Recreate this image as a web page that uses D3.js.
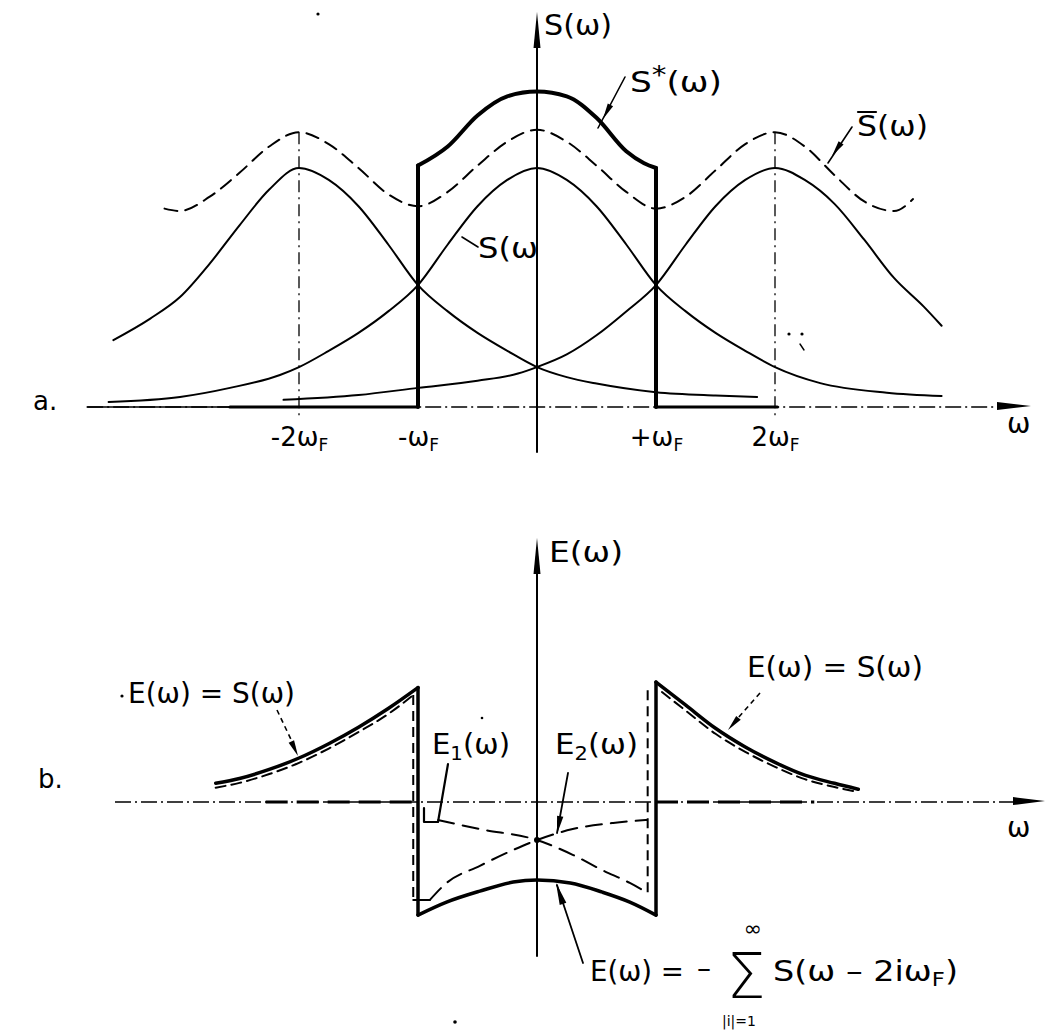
<!DOCTYPE html>
<html><head><meta charset="utf-8">
<script src="https://cdn.jsdelivr.net/npm/d3@7"></script>
<style>
body{margin:0;background:#fff}
svg{display:block}
text{font-family:"DejaVu Sans",sans-serif;fill:#000}
</style>
</head><body>
<svg id="c" width="1045" height="1033"></svg>
<script>
// ---------------- DATA (ω in units of ωF) ----------------
const tickValues = [-2, -1, 1, 2];
const tickMain   = ["-2ω", "-ω", "+ω", "2ω"];
const tickSub    = ["F", "F", "F", "F"];

// panel a: shifted spectra S(ω+2ωF), S(ω), S(ω-2ωF)
const sLeftD  = [-3.56,-3.25,-3,-2.75,-2.5,-2.25,-2,-1.75,-1.5,-1.25,-1,-0.75,-0.5,-0.25,0,0.25,0.5,1,1.5,1.85];
const sLeftV  = [0.28,0.37,0.46,0.60,0.76,0.91,1.0,0.95,0.84,0.68,0.51,0.40,0.31,0.235,0.167,0.125,0.098,0.062,0.048,0.042];
const sMidD   = [-3.6,-3,-2.58,-2.16,-2,-1.75,-1.5,-1.25,-1,-0.75,-0.5,-0.25,0,0.25,0.5,0.75,1,1.25,1.5,1.75,2,2.38,2.94,3.4];
const sMidV   = [0.021,0.042,0.08,0.134,0.167,0.235,0.31,0.40,0.51,0.68,0.84,0.95,1.0,0.95,0.84,0.68,0.51,0.40,0.31,0.235,0.167,0.10,0.06,0.046];
const sRightD = [-2.13,-1.5,-1,-0.5,-0.16,0,0.25,0.5,0.75,1,1.25,1.5,1.75,2,2.25,2.5,2.75,3,3.25,3.4];
const sRightV = [0.03,0.05,0.08,0.11,0.14,0.167,0.22,0.30,0.40,0.51,0.68,0.84,0.95,1.0,0.95,0.85,0.70,0.54,0.42,0.34];
// summed spectrum S̄(ω) (dashed)
const sBarD = [-3.13,-3,-2.75,-2.5,-2.25,-2,-1.75,-1.5,-1.25,-1,-0.75,-0.5,-0.25,0,0.25,0.5,0.75,1,1.25,1.5,1.75,2,2.25,2.5,2.75,3,3.16];
const sBarV = [0.83,0.82,0.88,0.98,1.09,1.15,1.10,1.0,0.89,0.84,0.90,1.01,1.11,1.16,1.11,1.01,0.90,0.83,0.88,0.99,1.10,1.15,1.09,0.97,0.86,0.82,0.87];
// aliased spectrum S*(ω) inside |ω| < ωF (thick)
const sStarD = [-1,-0.75,-0.5,-0.25,0,0.25,0.5,0.75,0.9,1];
const sStarV = [1.01,1.09,1.22,1.30,1.32,1.30,1.21,1.07,1.02,1.0];

// panel b: error spectrum E(ω)
const eLeftD  = [-2.7,-2.5,-2.25,-2,-1.75,-1.5,-1.25,-1];
const eLeftV  = [0.085,0.107,0.148,0.20,0.265,0.34,0.425,0.52];
const eRightD = [1,1.25,1.5,1.75,2,2.25,2.5,2.7];
const eRightV = [0.545,0.44,0.335,0.25,0.18,0.122,0.085,0.058];
const eLeftDashD  = [-2.7,-2.5,-2.25,-2,-1.75,-1.5,-1.25,-1.04];
const eLeftDashV  = [0.065,0.087,0.127,0.178,0.243,0.318,0.40,0.486];
const eRightDashD = [1.05,1.25,1.5,1.75,2,2.25,2.5,2.7];
const eRightDashV = [0.50,0.415,0.31,0.228,0.16,0.104,0.068,0.045];
const eBotD = [-1,-0.76,-0.48,-0.2,0,0.28,0.55,0.78,1];
const eBotV = [-0.514,-0.455,-0.405,-0.364,-0.355,-0.368,-0.41,-0.455,-0.514];
const e1D = [-0.83,-0.48,0,0.3,0.55,0.78,0.92];
const e1V = [-0.082,-0.123,-0.173,-0.24,-0.31,-0.368,-0.41];
const e2D = [-0.9,-0.76,-0.48,-0.2,0,0.3,0.64,0.92];
const e2V = [-0.445,-0.368,-0.29,-0.218,-0.173,-0.123,-0.095,-0.082];

// ---------------- SCALES ----------------
const X0 = 537, U = 119;
const x  = d3.scaleLinear().domain([-4, 4]).range([X0 - 4*U, X0 + 4*U]);
const yA = d3.scaleLinear().domain([0, 1]).range([407, 168]);
const yB = d3.scaleLinear().domain([0, 1]).range([802, 582]);

const svg = d3.select('#c');
const g = svg.append('g').attr('stroke-linecap','round').attr('stroke-linejoin','round');

const zip = (a, b) => a.map((d, i) => [d, b[i]]);
function curve(ds, vs, ys, w, dash) {
  return g.append('path').datum(zip(ds, vs))
    .attr('d', d3.line().x(p => x(p[0])).y(p => ys(p[1])).curve(d3.curveMonotoneX))
    .attr('fill','none').attr('stroke','#000').attr('stroke-width', w)
    .attr('stroke-dasharray', dash || null);
}
function seg(x1, y1, x2, y2, w, dash) {
  return g.append('line').attr('x1',x1).attr('y1',y1).attr('x2',x2).attr('y2',y2)
    .attr('stroke','#000').attr('stroke-width', w).attr('stroke-dasharray', dash || null)
    .attr('stroke-linecap', dash ? 'butt' : 'round');
}
function wedge(tx, ty, fx, fy, len, hw) {
  const dx = tx - fx, dy = ty - fy, L = Math.hypot(dx, dy);
  const ux = dx / L, uy = dy / L, bx = tx - ux*len, by = ty - uy*len;
  g.append('path').attr('d', `M${tx},${ty}L${bx - uy*hw},${by + ux*hw}L${bx + uy*hw},${by - ux*hw}Z`).attr('fill','#000');
}
function label(px, py, size, parts, opts) {
  const t = svg.append('text').attr('x', px).attr('y', py).attr('font-size', size);
  parts.forEach(p => {
    const s = t.append('tspan').text(p.t);
    if (p.s) s.attr('font-size', p.s);
    if (p.dy) s.attr('dy', p.dy);
  });
  if (opts && opts.len) t.attr('textLength', opts.len).attr('lengthAdjust', opts.adj || 'spacingAndGlyphs');
  if (opts && opts.anchor) t.attr('text-anchor', opts.anchor);
  return t;
}

// ================= PANEL a =================
seg(x(-3.78), yA(0), x(3.85), yA(0), 1.4, '16,4,2,4');
seg(x(-3.78), yA(0), x(-2.58), yA(0), 1.6);
seg(x(-2.58), yA(0), x(-1), yA(0), 3.2);
seg(x(1), yA(0), x(2.02), yA(0), 3.2);
wedge(1031, yA(0) - 1, 995, yA(0) - 1, 34, 4);
seg(X0, 30, X0, 452, 2);
wedge(X0, 12, X0, 60, 36, 3.5);

[-2, 2].forEach(v => seg(x(v), yA(1.15), x(v), yA(0) + 10, 1.3, '12,5,2,5'));

curve(sLeftD, sLeftV, yA, 2);
curve(sMidD, sMidV, yA, 2);
curve(sRightD, sRightV, yA, 2);
curve(sBarD, sBarV, yA, 2, '13,8');
curve(sStarD, sStarV, yA, 4);
seg(x(-1), yA(0), x(-1), yA(sStarV[0]), 4);
seg(x(1), yA(0), x(1), yA(sStarV[sStarV.length - 1]), 4);

const axA = d3.axisBottom(x).tickValues(tickValues).tickSize(0).tickFormat('');
const axG = svg.append('g').attr('transform', `translate(0,${yA(0)})`).call(axA);
axG.select('.domain').remove();
axG.selectAll('.tick text').each(function(d, i) {
  const t = d3.select(this).attr('y', 39).attr('dy', 0)
    .attr('font-size', 26).attr('font-family', '"DejaVu Sans",sans-serif').attr('fill', '#000');
  t.append('tspan').text(tickMain[i]);
  t.append('tspan').attr('font-size', 17).attr('dy', 5).text(tickSub[i]);
});

label(544, 35, 28, [{t:'S(ω)'}], {len: 68});
label(630, 92, 28, [{t:'S'}, {t:'*', s:24, dy:-9}, {t:'(ω)', dy:9}], {len: 92});
const sbar = label(857, 136, 28, [{t:'S(ω)'}], {len: 71});
{
  const r = sbar.node().getExtentOfChar(0);
  seg(r.x + 1, r.y + 2, r.x + r.width - 1, r.y + 2, 2.2);
}
label(478, 258, 28, [{t:'S(ω'}], {len: 60});
label(33, 410, 26, [{t:'a.'}]);
label(1007, 433, 28, [{t:'ω'}]);

seg(625, 77, 598, 128, 1.6); wedge(603, 119, 625, 77, 16, 3);
seg(852, 127, 828, 163, 1.6); wedge(832, 156, 852, 127, 16, 3);
seg(462, 237, 478, 247, 1.6);

g.append('circle').attr('cx', 318).attr('cy', 14).attr('r', 1.6);
g.append('circle').attr('cx', 789).attr('cy', 334).attr('r', 1.6);
g.append('circle').attr('cx', 802).attr('cy', 334).attr('r', 1.6);
seg(800, 344, 804, 350, 1.4);

// ================= PANEL b =================
seg(115, yB(0), 1016, yB(0), 1.4, '16,4,2,4');
seg(x(-2.28), yB(0), x(-1.04), yB(0), 2.8, '22,9');
seg(x(1), yB(0), x(2.33), yB(0), 2.8, '22,9');
wedge(1045, yB(0) - 1, 1013, yB(0) - 1, 32, 4);
seg(X0, 570, X0, 956, 2);
wedge(X0, 538, X0, 600, 36, 3.5);

curve(eLeftD, eLeftV, yB, 3.5);
curve(eRightD, eRightV, yB, 3.5);
curve(eBotD, eBotV, yB, 3.5);
seg(x(-1), yB(eLeftV[eLeftV.length - 1]), x(-1), yB(eBotV[0]), 3.5);
seg(x(1), yB(eRightV[0]), x(1), yB(eBotV[eBotV.length - 1]), 3.5);
curve(eLeftDashD, eLeftDashV, yB, 2, '10,6');
curve(eRightDashD, eRightDashV, yB, 2, '10,6');
seg(x(-1.04), yB(eLeftDashV[eLeftDashV.length - 1]), x(-1.04), yB(e2V[0]), 2, '10,6');
seg(x(-1.04), yB(e2V[0]), x(e2D[0]), yB(e2V[0]), 2);
seg(x(0.93), yB(e1V[e1V.length - 1]), x(0.93), yB(0.518), 2, '10,6');
curve(e1D, e1V, yB, 2, '16,9');
curve(e2D, e2V, yB, 2, '16,9');
g.append('circle').attr('cx', X0).attr('cy', yB(-0.173)).attr('r', 3);

label(549, 562, 28, [{t:'E(ω)'}], {len: 74});
label(38, 788, 26, [{t:'b.'}]);
g.append('circle').attr('cx', 122).attr('cy', 696).attr('r', 1.6);
label(128, 703, 28, [{t:'E(ω) = S(ω)'}], {len: 167});
label(747, 677, 28, [{t:'E(ω) = S(ω)'}], {len: 176});
label(432, 754, 28, [{t:'E'}, {t:'1', s:19, dy:6}, {t:'(ω)', dy:-6}], {len: 78});
label(555, 754, 28, [{t:'E'}, {t:'2', s:19, dy:6}, {t:'(ω)', dy:-6}], {len: 83});
label(1007, 837, 28, [{t:'ω'}]);
g.append('circle').attr('cx', 482).attr('cy', 718).attr('r', 1.3);

seg(277, 710, 296, 750, 1.6, '5,4'); wedge(298, 756, 277, 710, 16, 3);
seg(760, 693, 731, 726, 1.6, '5,4'); wedge(728, 730, 760, 693, 16, 3);
g.append('path').attr('d', 'M448,764L438,822L424,822L424,808').attr('fill','none').attr('stroke','#000').attr('stroke-width', 2.2);
seg(568, 773, 557, 833, 1.8); wedge(557, 834, 568, 773, 18, 3.2);
seg(583, 963, 557, 885, 1.8); wedge(556, 883, 583, 963, 22, 3.5);

label(590, 981, 28, [{t:'E(ω) ='}], {len: 94});
label(697, 978, 28, [{t:'–'}]);
label(746, 998, 62, [{t:'Σ'}], {anchor:'middle'}).attr('font-weight', 200);
label(753, 936, 22, [{t:'∞'}], {anchor:'middle'});
label(739, 1026, 14, [{t:'|i|=1'}], {anchor:'middle'});
label(773, 981, 28, [{t:'S(ω – 2iω'}, {t:'F', s:19, dy:5}, {t:')', dy:-5}], {len: 185});
g.append('circle').attr('cx', 455).attr('cy', 1022).attr('r', 1.8);
</script>
</body></html>
